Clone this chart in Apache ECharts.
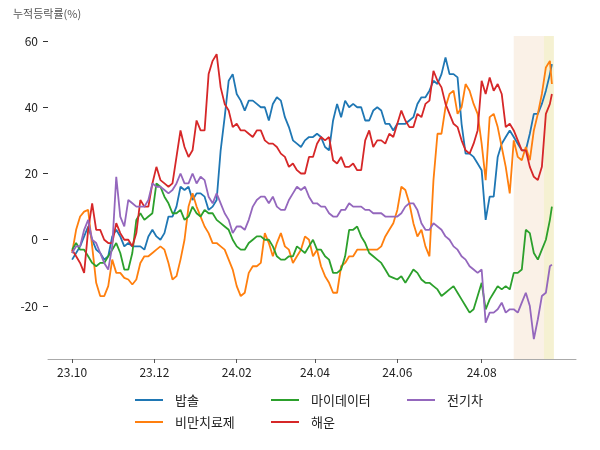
<!DOCTYPE html>
<html><head><meta charset="utf-8">
<script src="https://cdn.jsdelivr.net/npm/echarts@6/dist/echarts.min.js"></script>
<style>html,body{margin:0;padding:0;background:#fff}#c{width:600px;height:450px}</style>
</head><body><div id="c"></div>
<script>
// Values sampled every 2 trading days from 2023-10-04 (last point = final day)
const names = ['밥솔','비만치료제','마이데이터','해운','전기차'];
const colors = ['#1f77b4','#ff7f0e','#2ca02c','#d62728','#9467bd'];
const bapsol = [-6,-4,-2,1,4,0,-3,-4,-6,-5,1,3,1,-2,-1,-2,-2,-2,-3,1,3,1,0,2,7,7,10,16,15,16,12,14,14,13,9,10,12,27,37,48,50,44,42,39,42,42,41,40,40,36,41,43,42,37,34,30,29,28,30,31,31,32,31,28,27,36,41,37,42,40,41,40,40,36,36,39,40,39,35,35,33,35,35,35,36,37,41,43,43,45,48,47,50,55,50,50,49,35,26,26,25,23,21,6,13,13,25,29,31,33,31,29,27,27,32,38,38,41,45,50,53];
const obesity = [-4,3,7,8.5,9,-2,-13,-17,-17,-14,-6,-10,-10,-11.5,-12,-13.5,-12,-7,-5,-5,-4,-3,-2,-3,-7,-12,-11,-6,0,10,14,10,7,4,2,-1,-1,-2,-3,-6,-9,-14,-17,-16,-10,-8,-8,-7,2,-1,-5,-1,2,-2,-3,-7,-5,-3,1,0,-5,-3,-8,-11,-13,-16,-16,-8,-7,-5,-5,-3,-3,-3,-3,-3,-3,-2,1,3,5,9,16,15,11,5,1,3,-2,-5,18,32,32,40,44,45,38,40,47,45,41,38,29,18,37,38,34,28,22,14,30,25,24,28,24,33,38,44,52,54,47];
const mydata = [-3,-1,-3,-3,-5,-7,-8,-7,-7,-5,-3,-1,-4,-9,-9,-4,6,8,6,7,8,17,16,13,11,8,8,9,6,7,10,8,7,9,8,8,6,5,4,3,0,-2,-3,-3,-1,0,1,1,0,0,-2,-5,-6,-6,-5,-5,-2,-3,-4,-2,0,-3,-3,-5,-6,-10,-10,-9,-5,3,3,4,1,-1,-4,-5,-6,-7,-9,-11,-11.5,-12,-11,-13,-11,-9,-10,-12,-13,-13,-14,-15,-17,-16,-15,-14,-16,-18,-20,-22,-21,-17,-13,-21,-18,-16,-14,-15,-14,-15,-10,-10,-9,3,2,-4,-6,-3,0,6,10];
const shipping = [-3,-5,-7,-10,3,11,3,3,0,-1,-1,5,2,0,0,-2,2,12,10,10,17,22,18,17,16,17,25,33,28,25,27,36,33,33,50,54,56,46,41,39,34,35,33,33,32,31,33,33,30,29,29,28,26,25,22,23,21,20,20,25,25,29,31,30,31,24,23,25,22,22,23,21,21,30,33,28,30,30,29,32,31,35,39,36,34,34,38,37,41,42,51,48,46,41,38,35,34,30,27,26,29,33,48,44,49,45,47,44,34,35,33,30,27,27,22,19,18,22,38,41,44];
const ev = [-4,-2,-2,3,6,0,-1,-4,-7,-9,-2,19,7,4,12,11,10,10,10,12,17,16,16,15,14,15,17,20,17,17,20,17,19,18,13,11,14,11,8,6,2,4,4,3,6,10,12,13,13,11,13,10,9,9,12,14,16,15,16,13,11,11,10,10,8,7,7,9,9,11,10,10,10,9,9,8,8,8,7,7,7,7,8,10,11,11,9,5,3,3,5,4,3,1,0,-2,-3,-5,-6,-8,-9,-10,-9,-25,-22,-22,-21,-19,-22,-21,-21,-22,-19,-16,-20,-30,-24,-17,-16,-8,-7.5];
const seriesValues = [bapsol, obesity, mydata, shipping, ev];
// trading-day index of each sample
const dayIdx = bapsol.map((_, k) => (k < bapsol.length - 1 ? 2 * k : 2 * k - 1));
const tickDays = [0, 41, 82, 121, 162, 204];
const tickLabels = ['23.10','23.12','24.02','24.04','24.06','24.08'];
const yTicks = [-20, 0, 20, 40, 60];
const shadeA = [220, 235];
const shadeB = [235, 240];

const FONT = 'Noto Sans CJK KR';
const chart = echarts.init(document.getElementById('c'), null, {renderer: 'canvas'});
const series = seriesValues.map((vals, s) => ({
  name: names[s], type: 'line', symbol: 'none', showSymbol: false,
  data: vals.map((v, k) => [dayIdx[k], v]),
  lineStyle: {width: 1.8, color: colors[s]}, itemStyle: {color: colors[s]},
  z: 2 + s
}));
series[0].markArea = {
  silent: true,
  data: [
    [{xAxis: shadeA[0], itemStyle: {color: 'rgba(246,228,208,0.5)'}}, {xAxis: shadeA[1]}],
    [{xAxis: shadeB[0], itemStyle: {color: 'rgba(238,232,180,0.6)'}}, {xAxis: shadeB[1]}]
  ]
};
const legendCommon = {
  orient: 'vertical', top: 386, icon: 'rect', itemWidth: 28, itemHeight: 2, itemGap: 4,
  textStyle: {fontFamily: FONT, fontSize: 13, color: '#222', padding: [0,0,0,7], lineHeight: 18}
};
chart.setOption({
  animation: false,
  textStyle: {fontFamily: FONT},
  title: {text: '누적등락률(%)', left: 8, top: 3, textStyle: {fontFamily: FONT, fontSize: 11, fontWeight: 'normal', color: '#555'}},
  grid: {left: 48, right: 24, top: 36, bottom: 91},
  legend: [
    Object.assign({left: 130, data: [names[0], names[1]]}, legendCommon),
    Object.assign({left: 266, data: [names[2], names[3]]}, legendCommon),
    Object.assign({left: 402, data: [names[4]]}, legendCommon)
  ],
  xAxis: {
    type: 'value', min: -12, max: 251,
    splitLine: {show: false},
    axisLine: {show: true, onZero: false, lineStyle: {color: '#aaa', width: 1}},
    axisTick: {show: true, customValues: tickDays, length: 4, lineStyle: {color: '#555'}},
    axisLabel: {customValues: tickDays, margin: 7, fontSize: 12, color: '#222', fontFamily: FONT,
      formatter: v => tickLabels[tickDays.indexOf(v)]}
  },
  yAxis: {
    type: 'value', min: -36, max: 61.5,
    splitLine: {show: false},
    axisLine: {show: false, onZero: false},
    axisTick: {show: true, customValues: yTicks, length: 5, lineStyle: {color: '#333'}},
    axisLabel: {customValues: yTicks, margin: 10, fontSize: 12, color: '#222', fontFamily: FONT}
  },
  series: series
});
</script>
</body></html>
